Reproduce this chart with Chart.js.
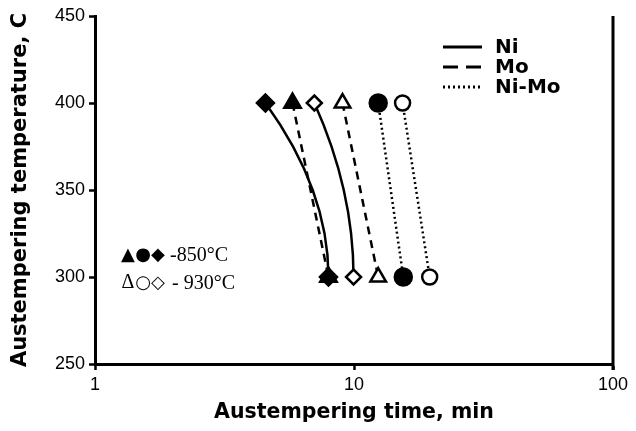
<!DOCTYPE html>
<html>
<head>
<meta charset="utf-8">
<script src="https://cdn.jsdelivr.net/npm/chart.js@4"></script>
<style>
  html, body { margin: 0; padding: 0; background: #fff; }
  #wrap { width: 636px; height: 431px; }
</style>
</head>
<body>
<div id="wrap"><canvas id="c" width="636" height="431"></canvas></div>
<script>
// Austempering temperatures (C) and times (min) for each alloy / austenitizing temperature
const temps = [400, 300];
const niTime850 = [4.55, 7.97];
const niTime930 = [7.03, 9.96];
const moTime850 = [5.79, 7.97];
const moTime930 = [9.03, 12.4];
const niMoTime850 = [12.4, 15.5];
const niMoTime930 = [15.4, 19.6];

const xTicks = [1, 10, 100];
const yTicks = [250, 300, 350, 400, 450];

const lineKeys = [
  { label: 'Ni', dash: [] },
  { label: 'Mo', dash: [15, 8] },
  { label: 'Ni-Mo', dash: [2, 3] }
];
const symbolRows = [
  { glyphs: ['\u25B2', '\u25CF', '\u25C6'], text: '-850\u00B0C', textX: 170 },
  { glyphs: ['\u0394', '\u25CB', '\u25C7'], text: '- 930\u00B0C', textX: 172 }
];

function pts(times) {
  return times.map((t, i) => ({ x: t, y: temps[i] }));
}

function series(label, times, style, filled, dash, radius, curved) {
  return {
    label: label,
    data: pts(times),
    showLine: !curved,
    curved: !!curved,
    borderColor: '#000',
    borderWidth: 2.5,
    borderDash: dash,
    pointStyle: style,
    pointRadius: radius,
    pointHoverRadius: radius,
    pointBackgroundColor: filled ? '#000' : '#fff',
    pointBorderColor: '#000',
    pointBorderWidth: 2.5
  };
}

const datasets = [
  series('Ni 930', niTime930, 'rectRot', false, [], 7.5, true),
  series('Ni 850', niTime850, 'rectRot', true, [], 8.5, true),
  series('Mo 930', moTime930, 'triangle', false, [8, 6], 9),
  series('Mo 850', moTime850, 'triangle', true, [8, 6], 9.5),
  series('Ni-Mo 930', niMoTime930, 'circle', false, [2, 3], 7.5),
  series('Ni-Mo 850', niMoTime850, 'circle', true, [2, 3], 8.5)
];

// smooth solid curves for the Ni series (quadratic, vertical where it meets the lower point)
const niCurves = {
  id: 'niCurves',
  beforeDatasetsDraw(chart) {
    const ctx = chart.ctx;
    const xs = chart.scales.x, ys = chart.scales.y;
    const a = chart.chartArea;
    ctx.save();
    ctx.beginPath();
    ctx.rect(a.left, a.top, a.right - a.left, a.bottom - a.top);
    ctx.clip();
    ctx.strokeStyle = '#000';
    ctx.lineWidth = 2.5;
    chart.data.datasets.forEach(ds => {
      if (!ds.curved) return;
      const p0 = ds.data[0], p1 = ds.data[1];
      const x0 = xs.getPixelForValue(p0.x), y0 = ys.getPixelForValue(p0.y);
      const x1 = xs.getPixelForValue(p1.x), y1 = ys.getPixelForValue(p1.y);
      ctx.beginPath();
      ctx.moveTo(x0, y0);
      ctx.quadraticCurveTo(x1, (y0 + y1) / 2, x1, y1);
      ctx.stroke();
    });
    ctx.restore();
  }
};

// right-hand frame line and the two in-plot keys
const frameAndKeys = {
  id: 'frameAndKeys',
  afterDraw(chart) {
    const ctx = chart.ctx;
    const a = chart.chartArea;
    ctx.save();
    ctx.strokeStyle = '#000';
    ctx.lineWidth = 3;
    ctx.beginPath();
    ctx.moveTo(a.right, a.top);
    ctx.lineTo(a.right, a.bottom + 6);
    ctx.stroke();

    // line-style key
    ctx.lineWidth = 3;
    ctx.font = 'bold 20px "DejaVu Sans", sans-serif';
    ctx.fillStyle = '#000';
    ctx.textBaseline = 'middle';
    lineKeys.forEach((k, i) => {
      const y = 47 + i * 20;
      ctx.setLineDash(k.dash);
      ctx.beginPath();
      ctx.moveTo(443, y);
      ctx.lineTo(482, y);
      ctx.stroke();
      ctx.setLineDash([]);
      ctx.fillText(k.label, 495, y + 1);
    });

    // marker key
    symbolRows.forEach((row, i) => {
      const y = 255 + i * 28;
      ctx.textAlign = 'center';
      row.glyphs.forEach((g, j) => {
        ctx.font = (g === '\u0394' ? '20px "Liberation Serif", serif' : '18px "DejaVu Sans", sans-serif');
        ctx.fillText(g, 128 + j * 15, y);
      });
      ctx.textAlign = 'left';
      ctx.font = '20px "Liberation Serif", "DejaVu Serif", serif';
      ctx.fillText(row.text, row.textX, y + 1);
    });
    ctx.restore();
  }
};

new Chart(document.getElementById('c'), {
  type: 'scatter',
  data: { datasets: datasets },
  plugins: [niCurves, frameAndKeys],
  options: {
    responsive: false,
    animation: false,
    events: [],
    layout: { padding: { top: 16, right: 23, left: 0, bottom: 0 } },
    plugins: { legend: { display: false }, tooltip: { enabled: false } },
    scales: {
      x: {
        type: 'logarithmic',
        min: 1,
        max: 100,
        afterBuildTicks(scale) { scale.ticks = xTicks.map(v => ({ value: v })); },
        afterFit(scale) { scale.height = 67; },
        ticks: {
          color: '#000',
          font: { family: '"Liberation Sans", Arial, sans-serif', size: 18 },
          padding: 4,
          maxRotation: 0,
          autoSkip: false,
          callback: v => String(v)
        },
        grid: { drawOnChartArea: false, drawTicks: true, tickLength: 6, tickColor: '#000', tickWidth: 2.5 },
        border: { color: '#000', width: 3 },
        title: {
          display: true,
          text: 'Austempering time, min',
          color: '#000',
          font: { family: '"DejaVu Sans", sans-serif', size: 20.5, weight: 'bold' },
          padding: { top: 0, bottom: 6 }
        }
      },
      y: {
        min: 250,
        max: 450,
        afterBuildTicks(scale) { scale.ticks = yTicks.map(v => ({ value: v })); },
        afterFit(scale) { scale.width = 95; },
        ticks: {
          color: '#000',
          font: { family: '"Liberation Sans", Arial, sans-serif', size: 18 },
          padding: 4
        },
        grid: { drawOnChartArea: false, drawTicks: true, tickLength: 6, tickColor: '#000', tickWidth: 2.5 },
        border: { color: '#000', width: 3 },
        title: {
          display: true,
          text: 'Austempering temperature, C',
          color: '#000',
          font: { family: '"DejaVu Sans", sans-serif', size: 21, weight: 'bold' },
          padding: { top: 8, bottom: 0 }
        }
      }
    }
  }
});
</script>
</body>
</html>
